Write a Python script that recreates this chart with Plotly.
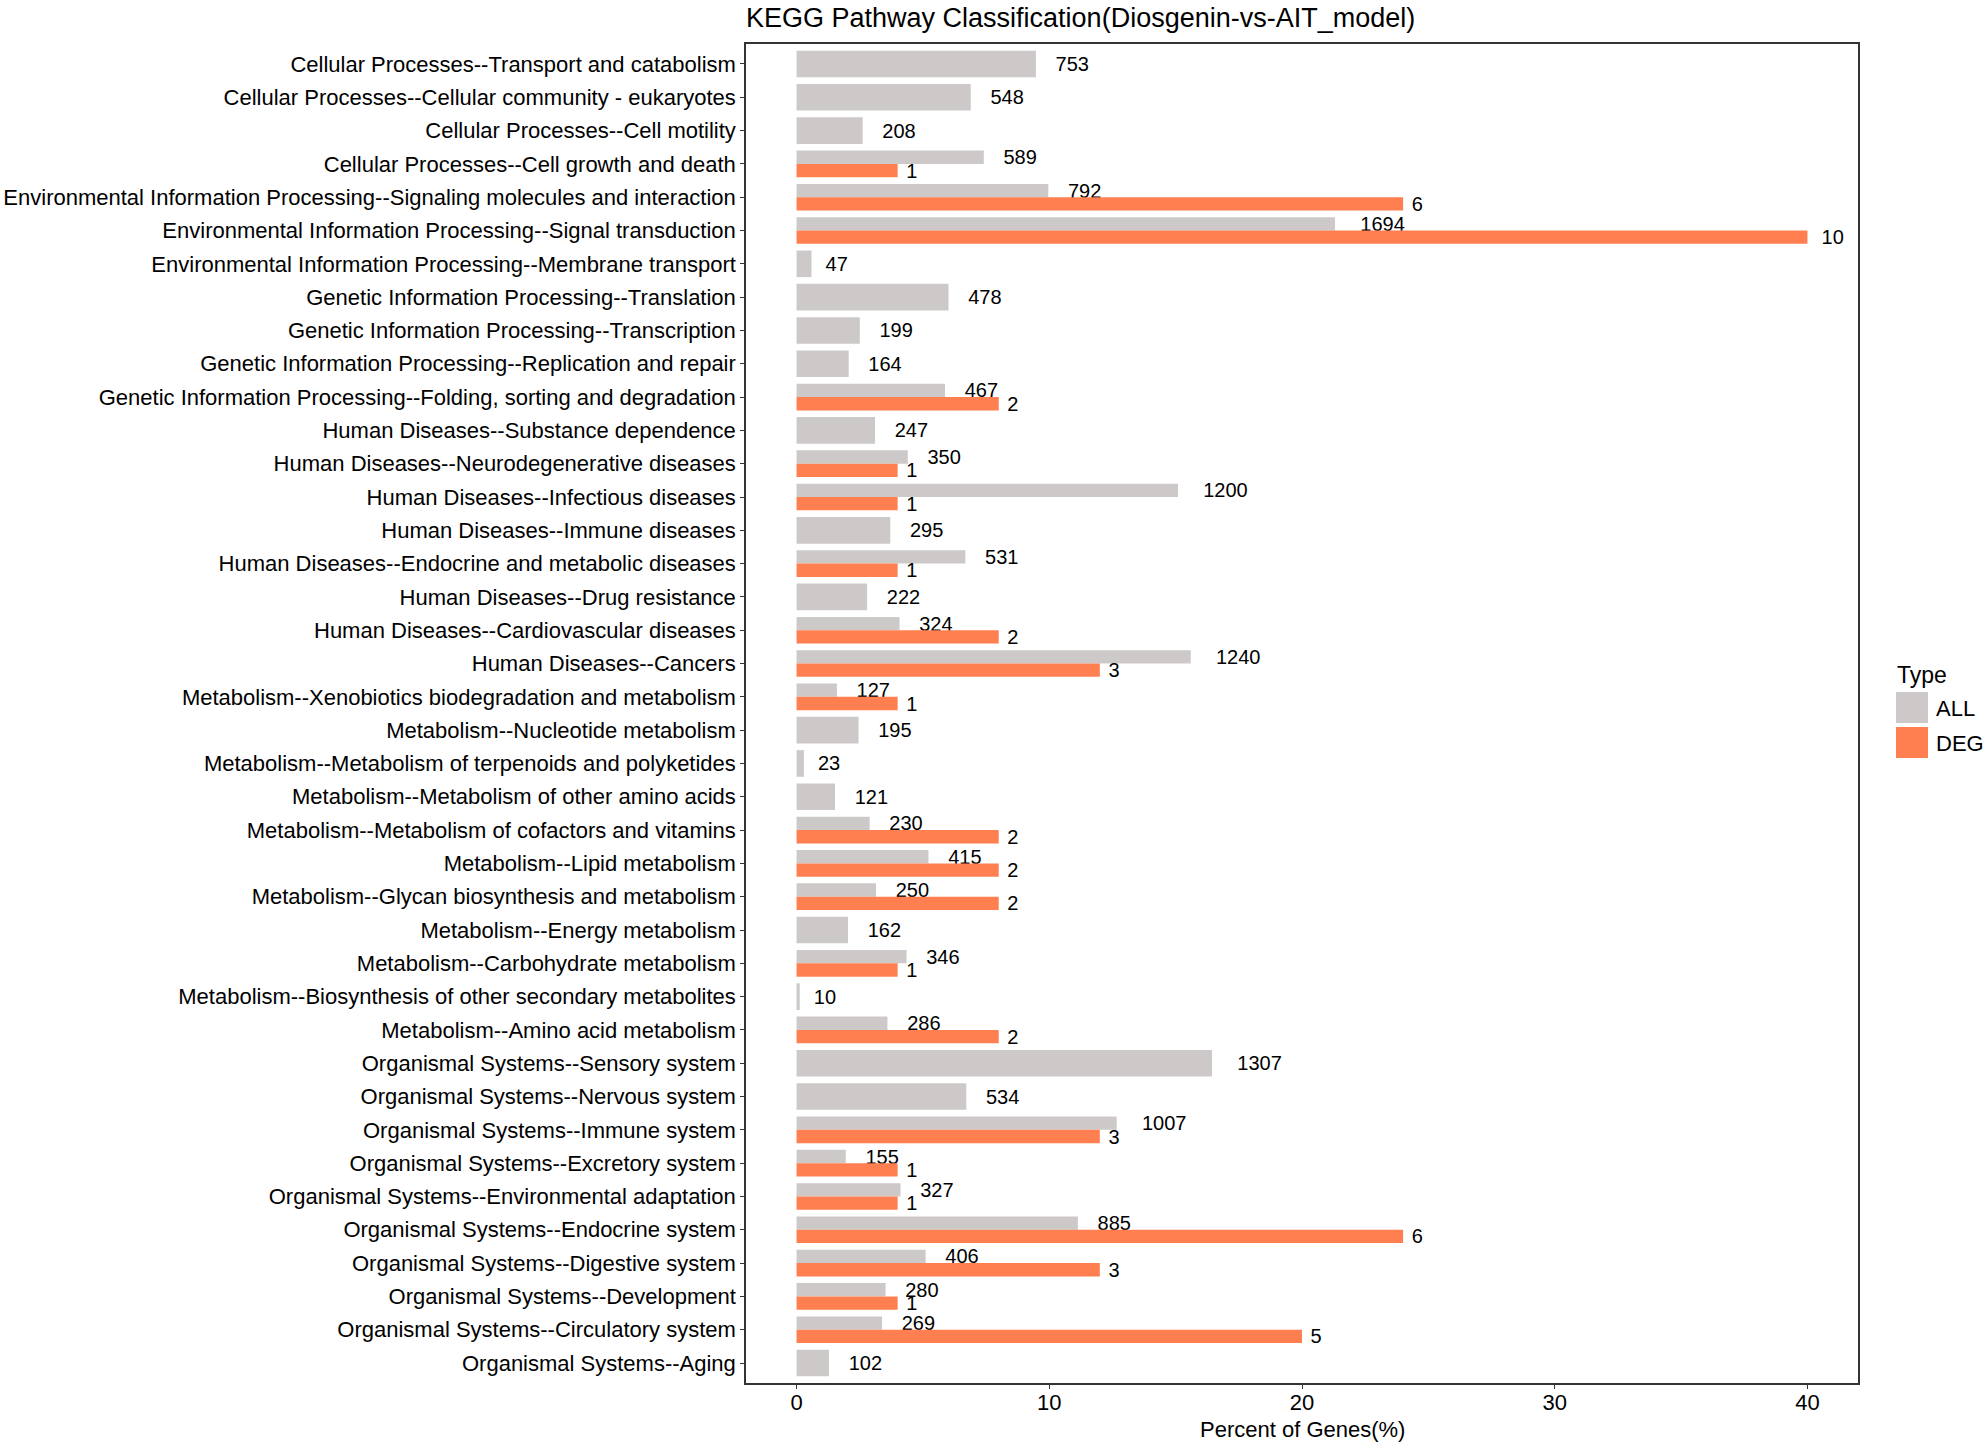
import plotly.graph_objects as go

categories = [
    "Cellular Processes--Transport and catabolism",
    "Cellular Processes--Cellular community - eukaryotes",
    "Cellular Processes--Cell motility",
    "Cellular Processes--Cell growth and death",
    "Environmental Information Processing--Signaling molecules and interaction",
    "Environmental Information Processing--Signal transduction",
    "Environmental Information Processing--Membrane transport",
    "Genetic Information Processing--Translation",
    "Genetic Information Processing--Transcription",
    "Genetic Information Processing--Replication and repair",
    "Genetic Information Processing--Folding, sorting and degradation",
    "Human Diseases--Substance dependence",
    "Human Diseases--Neurodegenerative diseases",
    "Human Diseases--Infectious diseases",
    "Human Diseases--Immune diseases",
    "Human Diseases--Endocrine and metabolic diseases",
    "Human Diseases--Drug resistance",
    "Human Diseases--Cardiovascular diseases",
    "Human Diseases--Cancers",
    "Metabolism--Xenobiotics biodegradation and metabolism",
    "Metabolism--Nucleotide metabolism",
    "Metabolism--Metabolism of terpenoids and polyketides",
    "Metabolism--Metabolism of other amino acids",
    "Metabolism--Metabolism of cofactors and vitamins",
    "Metabolism--Lipid metabolism",
    "Metabolism--Glycan biosynthesis and metabolism",
    "Metabolism--Energy metabolism",
    "Metabolism--Carbohydrate metabolism",
    "Metabolism--Biosynthesis of other secondary metabolites",
    "Metabolism--Amino acid metabolism",
    "Organismal Systems--Sensory system",
    "Organismal Systems--Nervous system",
    "Organismal Systems--Immune system",
    "Organismal Systems--Excretory system",
    "Organismal Systems--Environmental adaptation",
    "Organismal Systems--Endocrine system",
    "Organismal Systems--Digestive system",
    "Organismal Systems--Development",
    "Organismal Systems--Circulatory system",
    "Organismal Systems--Aging",
]

all_counts = [753, 548, 208, 589, 792, 1694, 47, 478, 199, 164, 467, 247, 350, 1200,
              295, 531, 222, 324, 1240, 127, 195, 23, 121, 230, 415, 250, 162, 346,
              10, 286, 1307, 534, 1007, 155, 327, 885, 406, 280, 269, 102]

deg_counts = [None, None, None, 1, 6, 10, None, None, None, None, 2, None, 1, 1,
              None, 1, None, 2, 3, 1, None, None, None, 2, 2, 2, None, 1,
              None, 2, None, None, 3, 1, 1, 6, 3, 1, 5, None]

ALL_TOTAL = 7950   # genes with KEGG annotation
DEG_TOTAL = 25     # DEGs with KEGG annotation

legend_title = "Type"
legend_names = ["ALL", "DEG"]

GRAY = "#CDC9C9"
CORAL = "#FF7F50"
FONT = "Liberation Sans, Arial, sans-serif"

W, H = 1984, 1444
ML, MR, MT, MB = 746, 126, 44, 61
PW, PH = W - ML - MR, H - MT - MB


def pad_label(v):
    s = str(v)
    return "\u00a0" * len(s) + s


def px_to_paper(x, y):
    return (x - ML) / PW, 1 - (y - MT) / PH


solo_y, solo_x, solo_t = [], [], []
dodge_y, dodge_x, dodge_t = [], [], []
deg_y, deg_x, deg_t = [], [], []
for cat, a, d in zip(categories, all_counts, deg_counts):
    pa = a / ALL_TOTAL * 100
    if d is None:
        solo_y.append(cat); solo_x.append(pa); solo_t.append(pad_label(a))
    else:
        dodge_y.append(cat); dodge_x.append(pa); dodge_t.append(pad_label(a))
        deg_y.append(cat); deg_x.append(d / DEG_TOTAL * 100); deg_t.append(pad_label(d))

common = dict(orientation="h", textposition="outside", constraintext="none",
              cliponaxis=False, showlegend=False,
              outsidetextfont=dict(family=FONT, size=20, color="black"))

fig = go.Figure()
fig.add_trace(go.Bar(y=solo_y, x=solo_x, text=solo_t, width=0.8, offset=-0.4,
                     marker=dict(color=GRAY, line=dict(width=0)), name="ALL", **common))
fig.add_trace(go.Bar(y=dodge_y, x=dodge_x, text=dodge_t, width=0.4, offset=-0.4,
                     marker=dict(color=GRAY, line=dict(width=0)), name="ALL", **common))
fig.add_trace(go.Bar(y=deg_y, x=deg_x, text=deg_t, width=0.4, offset=0.0,
                     marker=dict(color=CORAL, line=dict(width=0)), name="DEG", **common))

# legend drawn as paper-space keys (large ggplot-style squares)
shapes, annotations = [], []
tx, ty = px_to_paper(1895, 675)
annotations.append(dict(text=legend_title, xref="paper", yref="paper", x=tx, y=ty,
                        xanchor="left", yanchor="middle", showarrow=False,
                        font=dict(family=FONT, size=23, color="black")))
for i, (nm, col) in enumerate(zip(legend_names, [GRAY, CORAL])):
    top = 692 + i * 35
    x0, y0 = px_to_paper(1896, top)
    x1, y1 = px_to_paper(1928, top + 31)
    shapes.append(dict(type="rect", xref="paper", yref="paper", x0=x0, x1=x1,
                       y0=y1, y1=y0, fillcolor=col, line=dict(width=0)))
    lx, ly = px_to_paper(1934, top + 16)
    annotations.append(dict(text=nm, xref="paper", yref="paper", x=lx, y=ly,
                            xanchor="left", yanchor="middle", showarrow=False,
                            font=dict(family=FONT, size=22, color="black")))

# x-axis title placed like ggplot (centred under the panel)
xt, yt = px_to_paper(ML + PW / 2, 1429)
annotations.append(dict(text="Percent of Genes(%)", xref="paper", yref="paper",
                        x=xt, y=yt, xanchor="center", yanchor="middle", showarrow=False,
                        font=dict(family=FONT, size=22, color="black")))

fig.update_layout(
    width=W, height=H,
    barmode="overlay",
    paper_bgcolor="white", plot_bgcolor="white",
    font=dict(family=FONT, size=22, color="black"),
    margin=dict(l=ML, r=MR, t=MT, b=MB, autoexpand=False),
    showlegend=False,
    shapes=shapes, annotations=annotations,
    title=dict(text="KEGG Pathway Classification(Diosgenin-vs-AIT_model)",
               xref="paper", x=0, xanchor="left", y=1 - 18 / H, yanchor="middle",
               font=dict(family=FONT, size=27, color="black")),
    xaxis=dict(range=[-2, 42], tickvals=[0, 10, 20, 30, 40], showgrid=False,
               zeroline=False, showline=True, linecolor="#333333", linewidth=1.5,
               mirror=True, ticks="outside", ticklen=4, tickcolor="#333333",
               ticklabelstandoff=-5,
               tickfont=dict(size=22, color="black"), automargin=False),
    yaxis=dict(type="category", categoryorder="array", categoryarray=categories,
               autorange=False, range=[39.6, -0.6], showgrid=False,
               zeroline=False, showline=True, linecolor="#333333", linewidth=1.5,
               mirror=True, ticks="outside", ticklen=4, tickcolor="#333333",
               tickfont=dict(size=22, color="black"), automargin=False),
)

fig.write_html(
    "out.html",
    config={"displayModeBar": False},
    post_script="document.body.style.margin='0';document.body.style.overflow='hidden';",
)
